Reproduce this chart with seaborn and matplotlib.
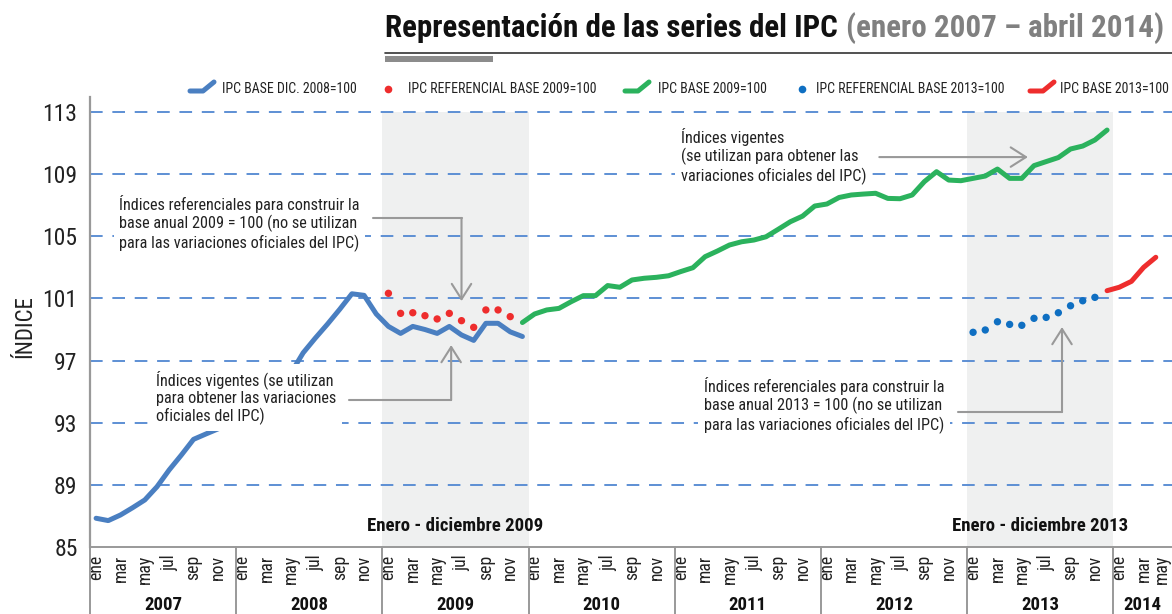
import numpy as np
import pandas as pd
import matplotlib
matplotlib.use("Agg")
import matplotlib.pyplot as plt
import seaborn as sns
from matplotlib import font_manager as fm
from matplotlib.lines import Line2D
from matplotlib.patches import Rectangle
from matplotlib.transforms import blended_transform_factory, ScaledTranslation

# ---------------- data ----------------
month_names = ["ene", "feb", "mar", "abr", "may", "jun", "jul", "ago", "sep", "oct", "nov", "dic"]
years = [2007, 2008, 2009, 2010, 2011, 2012, 2013, 2014]

# IPC base dic. 2008=100 : ene 2007 - dic 2009
ipc_base_2008 = [86.85, 86.70, 87.06, 87.53, 88.03, 88.88, 89.96, 90.92, 91.93, 92.27, 92.60, 93.00,
                 93.60, 94.30, 95.00, 95.60, 96.20, 97.50, 98.45, 99.35, 100.30, 101.30, 101.20, 100.00,
                 99.20, 98.75, 99.20, 99.00, 98.75, 99.20, 98.65, 98.30, 99.40, 99.40, 98.85, 98.55]
# IPC referencial base 2009=100 : ene - nov 2009
ipc_ref_2009 = [101.33, 100.04, 100.08, 99.89, 99.68, 100.04, 99.57, 99.14, 100.26, 100.26, 99.83]
# IPC base 2009=100 : dic 2009 - dic 2013
ipc_base_2009 = [99.45,
                 100.00, 100.26, 100.36, 100.79, 101.18, 101.18, 101.83, 101.72, 102.19, 102.30, 102.36, 102.46,
                 102.73, 102.98, 103.69, 104.05, 104.44, 104.65, 104.76, 104.97, 105.45, 105.94, 106.30, 106.95,
                 107.08, 107.50, 107.66, 107.72, 107.77, 107.44, 107.42, 107.66, 108.52, 109.16, 108.62, 108.58,
                 108.73, 108.88, 109.33, 108.73, 108.73, 109.55, 109.81, 110.07, 110.62, 110.81, 111.20, 111.84]
# IPC referencial base 2013=100 : ene - nov 2013
ipc_ref_2013 = [98.82, 98.97, 99.50, 99.33, 99.27, 99.72, 99.78, 100.08, 100.53, 100.85, 101.07]
# IPC base 2013=100 : dic 2013 - abr 2014
ipc_base_2013 = [101.50, 101.72, 102.10, 103.00, 103.65]

y_ticks = [85, 89, 93, 97, 101, 105, 109, 113]

# month index (0 = ene 2007)
def idx(year, month):
    return (year - 2007) * 12 + (month - 1)

df_b08 = pd.DataFrame({"t": np.arange(idx(2007, 1), idx(2007, 1) + len(ipc_base_2008)), "v": ipc_base_2008})
df_r09 = pd.DataFrame({"t": np.arange(idx(2009, 1), idx(2009, 1) + len(ipc_ref_2009)), "v": ipc_ref_2009})
df_b09 = pd.DataFrame({"t": np.arange(idx(2009, 12), idx(2009, 12) + len(ipc_base_2009)), "v": ipc_base_2009})
df_r13 = pd.DataFrame({"t": np.arange(idx(2013, 1), idx(2013, 1) + len(ipc_ref_2013)), "v": ipc_ref_2013})
df_b13 = pd.DataFrame({"t": np.arange(idx(2013, 12), idx(2013, 12) + len(ipc_base_2013)), "v": ipc_base_2013})
n_months = idx(2014, 5) + 1

# ---------------- style ----------------
sns.set_theme(style="white")
avail = {f.name for f in fm.fontManager.ttflist}
cands = ["Roboto Condensed", "Archivo Narrow", "Barlow Condensed", "Liberation Sans Narrow"]
narrow = [c for c in cands if c in avail]
plt.rcParams["font.family"] = narrow[:1] + ["DejaVu Sans"]

C_BLUE = "#4a7fc1"
C_RED = "#ee2d2d"
C_GREEN = "#2bb25d"
C_BDOT = "#0f6fc2"
C_GRID = "#5d8fd4"
C_GRAY = "#999999"
C_SHADE = "#eff0f0"
TXT = "#222222"

W, H = 1172, 614
fig = plt.figure(figsize=(W / 100, H / 100), dpi=100)
ax_l, ax_r, ax_b, ax_t = 90, 1172, 547, 96.5
ax = fig.add_axes([ax_l / W, 1 - ax_b / H, (ax_r - ax_l) / W, (ax_b - ax_t) / H])
ax.set_facecolor("white")
ax.set_xlim(-0.5, 88.33)
ax.set_ylim(85, 114)

# shaded periods
frac = (113 - 85) / (114 - 85)
ax.axvspan(idx(2009, 1) - 0.5, idx(2009, 12) + 0.5, ymin=0, ymax=frac, color=C_SHADE, zorder=0, lw=0)
ax.axvspan(idx(2013, 1) - 0.5, idx(2013, 12) + 0.5, ymin=0, ymax=frac, color=C_SHADE, zorder=0, lw=0)

# grid
for v in y_ticks[1:]:
    ax.axhline(v, color=C_GRID, lw=1.4, dashes=(6.5, 5), zorder=1)

# series
lkw = dict(lw=3.6, solid_capstyle="round", solid_joinstyle="round", zorder=3, legend=False, sort=False)
sns.lineplot(data=df_b08, x="t", y="v", color=C_BLUE, ax=ax, **lkw)
sns.lineplot(data=df_b09, x="t", y="v", color=C_GREEN, ax=ax, **lkw)
sns.lineplot(data=df_b13, x="t", y="v", color=C_RED, ax=ax, **lkw)
sns.scatterplot(data=df_r09, x="t", y="v", color=C_RED, s=28, edgecolor="none", ax=ax, zorder=3, legend=False)
sns.scatterplot(data=df_r13, x="t", y="v", color=C_BDOT, s=28, edgecolor="none", ax=ax, zorder=3, legend=False)

# axes styling
for s in ["top", "right"]:
    ax.spines[s].set_visible(False)
ax.spines["left"].set_color(C_GRAY)
ax.spines["left"].set_linewidth(1.6)
ax.spines["bottom"].set_color(C_GRAY)
ax.spines["bottom"].set_linewidth(1.4)

ax.set_xticks(range(n_months))
ax.set_xticklabels([month_names[i % 12] if i % 2 == 0 else "" for i in range(n_months)],
                   rotation=90, fontsize=12.8, color=TXT)
ax.tick_params(axis="x", length=4, width=1, color=C_GRAY, pad=1.5)
# the last label sits at the right edge: nudge it left a little so it stays inside
last = ax.get_xticklabels()[-1]
last.set_transform(last.get_transform() + ScaledTranslation(-6 / 100, 0, fig.dpi_scale_trans))
ax.set_yticks(y_ticks)
ax.set_yticklabels([str(v) for v in y_ticks], fontsize=17, color=TXT)
ax.tick_params(axis="y", length=6, width=1.2, color=C_GRAY, pad=3)
ax.set_xlabel("")
ax.set_ylabel("")
fig.text(25 / W, 1 - 327 / H, "ÍNDICE", rotation=90, ha="center", va="center", fontsize=16.5, color=TXT)

# year separators and labels
bt = blended_transform_factory(ax.transData, ax.transAxes)
sep_bottom = -(H - ax_b) / (ax_b - ax_t)
for k in range(len(years)):
    x = 12 * k - 0.5
    ax.plot([x, x], [0, sep_bottom], transform=bt, color=C_GRAY, lw=1.4, clip_on=False, zorder=2)
year_y = -(605 - ax_b) / (ax_b - ax_t)
for k, yr in enumerate(years):
    xc = 12 * k + 5.5 if yr != 2014 else 85.9
    ax.text(xc, year_y, str(yr), transform=bt, ha="center", va="center", fontsize=13.5,
            fontweight="bold", color="#111111")

# period labels
ax.text(idx(2009, 6) + 0.5, 86.35, "Enero - diciembre 2009", ha="center", va="center",
        fontsize=13.5, fontweight="bold", color="#111111", zorder=4)
ax.text(idx(2013, 6) + 0.5, 86.35, "Enero - diciembre 2013", ha="center", va="center",
        fontsize=13.5, fontweight="bold", color="#111111", zorder=4)

# annotations
AFS = 11.7
bbox = dict(facecolor="white", edgecolor="none", boxstyle="square,pad=0.35")
arrow_kw = dict(arrowstyle="->,head_length=0.55,head_width=0.35", color=C_GRAY, lw=1.5,
                shrinkA=0, shrinkB=0, mutation_scale=20)

ax.text(1.9, 107.66, "Índices referenciales para construir la\nbase anual 2009 = 100 (no se utilizan\npara las variaciones oficiales del IPC)",
        ha="left", va="top", fontsize=AFS, color=TXT, bbox=bbox, zorder=5, linespacing=1.15)
ax.plot([22.7, 30.0], [106.18, 106.18], color=C_GRAY, lw=1.5, zorder=4)
ax.annotate("", xy=(30.0, 100.83), xytext=(30.0, 106.18), arrowprops=arrow_kw, zorder=4)

ax.text(4.93, 96.4, "Índices vigentes (se utilizan\npara obtener las variaciones\noficiales del IPC)",
        ha="left", va="top", fontsize=AFS, color=TXT, bbox=bbox, zorder=5, linespacing=1.15)
ax.plot([20.8, 29.15], [94.46, 94.46], color=C_GRAY, lw=1.5, zorder=4)
ax.annotate("", xy=(29.15, 98.0), xytext=(29.15, 94.46), arrowprops=arrow_kw, zorder=4)

ax.text(48.0, 111.97, "Índices vigentes\n(se utilizan para obtener las\nvariaciones oficiales del IPC)",
        ha="left", va="top", fontsize=AFS, color=TXT, bbox=bbox, zorder=5, linespacing=1.15)
ax.annotate("", xy=(76.5, 110.1), xytext=(64.3, 110.1), arrowprops=arrow_kw, zorder=4)

ax.text(49.9, 95.94, "Índices referenciales para construir la\nbase anual 2013 = 100 (no se utilizan\npara las variaciones oficiales del IPC)",
        ha="left", va="top", fontsize=AFS, color=TXT, bbox=bbox, zorder=5, linespacing=1.15)
ax.plot([70.75, 79.3], [93.69, 93.69], color=C_GRAY, lw=1.5, zorder=4)
ax.annotate("", xy=(79.3, 99.16), xytext=(79.3, 93.69), arrowprops=arrow_kw, zorder=4)

# title
renderer = fig.canvas.get_renderer()
t1 = fig.text(385 / W, 1 - 28 / H, "Representación de las series del IPC", ha="left", va="center",
              fontsize=22.3, fontweight="bold", color="#111111")
bb = t1.get_window_extent(renderer)
fig.text((bb.x1 + 8) / W, 1 - 28 / H, "(enero 2007 – abril 2014)", ha="left", va="center",
         fontsize=22.3, fontweight="bold", color="#808080")
fig.add_artist(Line2D([385 / W, 1], [1 - 53 / H] * 2, transform=fig.transFigure, color="#333333", lw=1.2))
fig.add_artist(Rectangle((385 / W, 1 - 62 / H), 108 / W, 6 / H, transform=fig.transFigure,
                         facecolor="#8c8c8c", edgecolor="none"))

# legend
ly = 89
def line_icon(x0, color):
    xs = [x0, x0 + 13, x0 + 24]
    ys = [ly + 2, ly + 2, ly - 7]
    fig.add_artist(Line2D([x / W for x in xs], [1 - y / H for y in ys], transform=fig.transFigure,
                          color=color, lw=3.6, solid_capstyle="round", solid_joinstyle="round"))
def dot_icon(xc, color):
    fig.add_artist(Line2D([xc / W], [1 - ly / H], transform=fig.transFigure, marker="o",
                          markersize=5.5, color=color, markeredgewidth=0, linestyle="none"))
LFS = 10
line_icon(190, C_BLUE)
fig.text(222 / W, 1 - ly / H, "IPC BASE DIC. 2008=100", ha="left", va="center", fontsize=LFS, color=TXT)
dot_icon(388, C_RED)
fig.text(408 / W, 1 - ly / H, "IPC REFERENCIAL BASE 2009=100", ha="left", va="center", fontsize=LFS, color=TXT)
line_icon(625, C_GREEN)
fig.text(658 / W, 1 - ly / H, "IPC BASE 2009=100", ha="left", va="center", fontsize=LFS, color=TXT)
dot_icon(802, C_BDOT)
fig.text(816 / W, 1 - ly / H, "IPC REFERENCIAL BASE 2013=100", ha="left", va="center", fontsize=LFS, color=TXT)
line_icon(1030, C_RED)
fig.text(1060 / W, 1 - ly / H, "IPC BASE 2013=100", ha="left", va="center", fontsize=LFS, color=TXT)

fig.savefig("out.png", dpi=100)
